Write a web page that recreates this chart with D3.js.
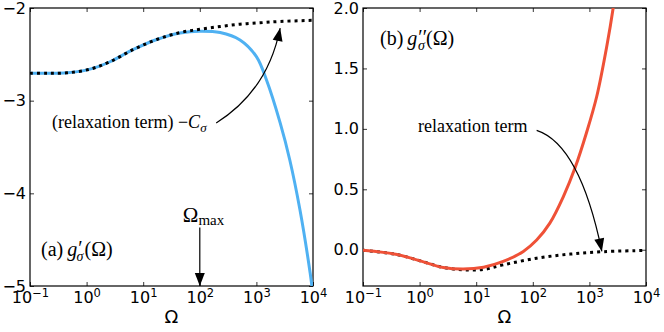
<!DOCTYPE html>
<html>
<head>
<meta charset="utf-8">
<script src="https://cdn.jsdelivr.net/npm/d3@7"></script>
<style>
  body { margin: 0; background: #fff; }
  svg { display: block; }
</style>
</head>
<body>
<script>
// (a) real part g'_sigma and its relaxation term -C_sigma
var omegaA = [0.1, 0.2, 0.45, 1.15, 2.6, 6.6, 17.4, 44.7, 100, 229, 513, 1000, 1514, 2630, 3890, 5890, 8910, 9550];
var gReal = [-2.705, -2.705, -2.70, -2.66, -2.58, -2.45, -2.34, -2.27, -2.25, -2.265, -2.345, -2.525, -2.78, -3.24, -3.64, -4.18, -4.86, -5.0];
var omegaRelaxA = [0.1, 0.2, 0.45, 1.15, 2.6, 6.6, 17.4, 44.7, 100, 229, 513, 1150, 2630, 10000];
var relaxA = [-2.705, -2.705, -2.70, -2.66, -2.58, -2.45, -2.34, -2.265, -2.23, -2.20, -2.175, -2.16, -2.145, -2.133];

// (b) imaginary part g''_sigma and its relaxation term
var omegaB = [0.1, 0.4, 1.17, 2.63, 5.9, 13.5, 30, 68, 117, 200, 347, 560, 891, 1350, 2040, 2630, 3200];
var gImag = [-0.005, -0.04, -0.10, -0.147, -0.16, -0.145, -0.097, -0.014, 0.08, 0.22, 0.44, 0.68, 0.97, 1.27, 1.69, 2.0, 2.3];
var omegaRelaxB = [0.1, 0.4, 1.17, 2.63, 5.9, 13.5, 30, 117, 457, 1780, 8500, 10000];
var relaxB = [-0.005, -0.04, -0.10, -0.147, -0.166, -0.163, -0.125, -0.07, -0.036, -0.016, -0.006, -0.005];

var xTicks = [0.1, 1, 10, 100, 1000, 10000];
var yTicksA = [-5, -4, -3, -2];
var yTicksB = [0, 0.5, 1, 1.5, 2];

var width = 664, height = 332;
var plotTop = 8, plotBottom = 286;
var sansFont = "DejaVu Sans, sans-serif";
var serifFont = "Liberation Serif, Times New Roman, serif";

var svg = d3.select("body").append("svg")
  .attr("width", width)
  .attr("height", height);

var defs = svg.append("defs");
defs.append("marker")
  .attr("id", "head")
  .attr("viewBox", "-14 -6 14 12")
  .attr("refX", 0)
  .attr("refY", 0)
  .attr("markerWidth", 14)
  .attr("markerHeight", 12)
  .attr("markerUnits", "userSpaceOnUse")
  .attr("orient", "auto")
  .append("path")
  .attr("d", "M0,0L-13,-5L-13,5Z")
  .attr("fill", "#000");

function panel(id, x0, x1, yDomain, yTicks, yFormat) {
  var x = d3.scaleLog().domain([0.1, 10000]).range([x0, x1]);
  var y = d3.scaleLinear().domain(yDomain).range([plotBottom, plotTop]);
  var g = svg.append("g");

  defs.append("clipPath").attr("id", "clip" + id)
    .append("rect")
    .attr("x", x0).attr("y", plotTop)
    .attr("width", x1 - x0).attr("height", plotBottom - plotTop);

  // bottom axis with 10^n labels
  var xAxis = g.append("g")
    .attr("transform", "translate(0," + plotBottom + ")")
    .call(d3.axisBottom(x).tickValues(xTicks).tickSizeInner(-4).tickSizeOuter(0).tickPadding(6));
  xAxis.selectAll("text").each(function(d) {
    var t = d3.select(this).text(null)
      .attr("font-family", sansFont).attr("font-size", 16).attr("fill", "#000");
    t.append("tspan").text("10");
    t.append("tspan").attr("font-size", 11.5).attr("dy", "-0.55em")
      .text(d3.format("d")(Math.round(Math.log10(d))));
  });
  g.append("g")
    .attr("transform", "translate(0," + plotTop + ")")
    .call(d3.axisTop(x).tickValues(xTicks).tickSizeInner(-4).tickSizeOuter(0).tickFormat(""));

  var yAxis = g.append("g")
    .attr("transform", "translate(" + x0 + ",0)")
    .call(d3.axisLeft(y).tickValues(yTicks).tickSizeInner(-4).tickSizeOuter(0).tickPadding(4).tickFormat(d3.format(yFormat)));
  yAxis.selectAll("text")
    .attr("font-family", sansFont).attr("font-size", 16).attr("fill", "#000");
  g.append("g")
    .attr("transform", "translate(" + x1 + ",0)")
    .call(d3.axisRight(y).tickValues(yTicks).tickSizeInner(-4).tickSizeOuter(0).tickFormat(""));

  g.selectAll(".domain").remove();
  g.selectAll(".tick line").attr("stroke", "#000").attr("stroke-width", 0.8);

  g.append("rect")
    .attr("x", x0).attr("y", plotTop)
    .attr("width", x1 - x0).attr("height", plotBottom - plotTop)
    .attr("fill", "none").attr("stroke", "#000").attr("stroke-width", 1.2);

  g.append("text")
    .attr("x", (x0 + x1) / 2).attr("y", 323)
    .attr("text-anchor", "middle")
    .attr("font-family", sansFont).attr("font-size", 18)
    .text("Ω");

  var line = d3.line()
    .x(function(d) { return x(d[0]); })
    .y(function(d) { return y(d[1]); })
    .curve(d3.curveCatmullRom.alpha(0.5));

  var plot = g.append("g").attr("clip-path", "url(#clip" + id + ")");
  return { x: x, y: y, g: g, plot: plot, line: line };
}

function curve(p, xs, ys, color, dotted) {
  var path = p.plot.append("path")
    .datum(d3.zip(xs, ys))
    .attr("d", p.line)
    .attr("fill", "none")
    .attr("stroke", color)
    .attr("stroke-width", 3);
  if (dotted) path.attr("stroke-dasharray", "3,4");
  return path;
}

function arrow(p, from, ctrl, to) {
  var path = d3.path();
  path.moveTo(p.x(from[0]), p.y(from[1]));
  if (ctrl) path.quadraticCurveTo(p.x(ctrl[0]), p.y(ctrl[1]), p.x(to[0]), p.y(to[1]));
  else path.lineTo(p.x(to[0]), p.y(to[1]));
  p.g.append("path")
    .attr("d", path.toString())
    .attr("fill", "none")
    .attr("stroke", "#000")
    .attr("stroke-width", 1.2)
    .attr("marker-end", "url(#head)");
}

function mathLabel(p, x, y, prefix, prime) {
  var t = p.g.append("text")
    .attr("x", x).attr("y", y)
    .attr("font-family", serifFont).attr("font-size", 20);
  t.append("tspan").text(prefix + "\u2009");
  t.append("tspan").attr("font-style", "italic").text("g");
  t.append("tspan").attr("font-size", 20).attr("dy", -1).attr("dx", 1).text(prime);
  t.append("tspan").attr("font-size", 14).attr("font-style", "italic").attr("dy", 6).attr("dx", prime.length > 1 ? -9 : -6).text("σ");
  t.append("tspan").attr("dy", -5).attr("dx", 1).text("(Ω)");
}

// ---- panel (a)
var a = panel("a", 30, 313, [-5, -2], yTicksA, "d");
curve(a, omegaA, gReal, "#4fb1f2", false);
curve(a, omegaRelaxA, relaxA, "#000", true);

mathLabel(a, 41, 256, "(a)", "′");

var om = a.g.append("text")
  .attr("x", a.x(100) - 17).attr("y", 222)
  .attr("font-family", serifFont).attr("font-size", 21);
om.append("tspan").text("Ω");
om.append("tspan").attr("font-size", 15).attr("dy", 3).text("max");
arrow(a, [100, -4.37], null, [100, -5.0]);

var rt = a.g.append("text")
  .attr("x", a.x(0.245)).attr("y", a.y(-3.295))
  .attr("font-family", serifFont).attr("font-size", 18);
rt.append("tspan").text("(relaxation term) −");
rt.append("tspan").attr("font-style", "italic").text("C");
rt.append("tspan").attr("font-style", "italic").attr("font-size", 13).attr("dy", 4).text("σ");
arrow(a, [195, -3.24], [1570, -2.896], [2630, -2.216]);

// ---- panel (b)
var b = panel("b", 363, 646, [-0.3, 2.0], yTicksB, ".1f");
curve(b, omegaRelaxB, relaxB, "#000", true);
curve(b, omegaB, gImag, "#ef5137", false);

mathLabel(b, 380, 45, "(b)", "′′");

b.g.append("text")
  .attr("x", b.x(0.94)).attr("y", b.y(0.97))
  .attr("font-family", serifFont).attr("font-size", 18)
  .text("relaxation term");
arrow(b, [117, 0.987], [676, 0.87], [1660, -0.014]);
</script>
</body>
</html>
